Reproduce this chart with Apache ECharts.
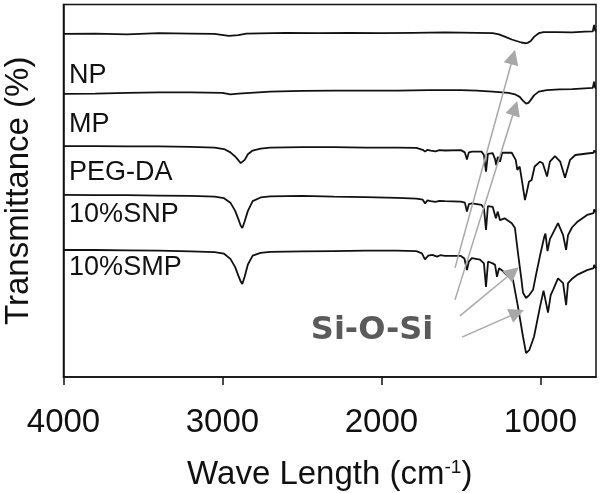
<!DOCTYPE html>
<html>
<head>
<meta charset="utf-8">
<script src="https://cdn.jsdelivr.net/npm/echarts@6/dist/echarts.min.js"></script>
<style>html,body{margin:0;padding:0;background:#fff}#c{width:600px;height:493px}</style>
</head>
<body>
<div id="c"></div>
<script>
// ---- data (wavenumber cm-1, offset transmittance a.u.) ----
const seriesNames = ['NP', 'MP', 'PEG-DA', '10%SNP', '10%SMP'];
const xTicks = [4000, 3000, 2000, 1000];

const NP = [[4000,92.1],[3800,92.2],[3600,92.0],[3400,92.3],[3200,92.2],[3050,92.1],[2960,91.6],[2900,91.8],[2850,92.2],[2600,92.4],[2400,92.3],[2200,92.4],[2000,92.3],[1800,92.4],[1600,92.5],[1400,92.4],[1300,92.3],[1260,92.0],[1220,91.3],[1180,90.6],[1150,90.2],[1120,89.8],[1095,89.6],[1080,89.7],[1060,90.2],[1040,91.3],[1010,92.3],[980,92.6],[900,92.6],[800,92.5],[720,92.7],[670,92.8],[662,94.5],[655,93.0],[650,92.8]];

const MP = [[4000,76.0],[3800,76.1],[3600,76.3],[3400,76.4],[3200,76.4],[3000,76.3],[2950,75.9],[2900,76.1],[2700,76.6],[2500,76.8],[2300,76.9],[2100,76.9],[1900,76.9],[1700,77.0],[1500,77.0],[1400,76.9],[1300,76.6],[1200,76.3],[1160,75.9],[1130,75.2],[1110,74.2],[1090,73.4],[1075,73.6],[1060,74.4],[1040,75.6],[1010,76.6],[960,77.0],[880,77.2],[800,77.3],[720,77.5],[670,77.6],[662,79.3],[655,77.6],[650,77.6]];

const PEGDA = [[4000,62.0],[3800,62.0],[3600,61.9],[3400,61.9],[3200,61.8],[3050,61.6],[2990,61.2],[2950,60.3],[2920,59.2],[2900,58.2],[2885,57.4],[2875,57.2],[2860,58.3],[2840,59.8],[2810,60.8],[2760,61.3],[2700,61.6],[2500,61.7],[2300,61.7],[2100,61.6],[1900,61.6],[1780,61.5],[1740,61.0],[1725,60.5],[1710,61.0],[1690,60.8],[1660,60.6],[1635,60.9],[1600,60.8],[1500,60.9],[1475,60.3],[1462,58.4],[1450,60.3],[1430,60.5],[1370,60.5],[1355,59.6],[1342,55.1],[1330,59.9],[1300,60.1],[1285,58.5],[1278,56.9],[1268,59.1],[1254,57.8],[1240,60.2],[1180,60.2],[1155,58.3],[1145,55.6],[1130,56.5],[1110,51.1],[1097,47.5],[1085,49.7],[1072,52.4],[1055,52.9],[1036,56.5],[1002,57.8],[985,57.4],[958,53.8],[940,57.8],[908,59.3],[875,57.8],[845,53.5],[838,53.1],[813,58.3],[780,59.6],[706,60.0],[665,60.2],[662,60.8],[650,60.3]];

const SNP10 = [[4000,48.9],[3800,48.8],[3600,48.8],[3400,48.7],[3200,48.6],[3050,48.4],[2990,48.0],[2950,46.8],[2920,44.6],[2900,42.4],[2885,40.6],[2875,40.0],[2860,41.8],[2840,44.6],[2810,47.2],[2760,48.2],[2700,48.5],[2500,48.6],[2300,48.4],[2100,48.3],[1900,48.1],[1780,47.9],[1740,47.6],[1725,46.6],[1710,47.4],[1690,47.2],[1660,47.0],[1635,47.3],[1600,47.2],[1500,47.1],[1475,46.8],[1462,44.4],[1450,46.4],[1430,46.6],[1370,46.2],[1355,45.3],[1342,39.5],[1330,45.9],[1300,45.7],[1280,42.6],[1268,44.4],[1254,42.1],[1225,42.6],[1180,41.3],[1160,40.0],[1141,33.3],[1120,26.5],[1109,22.6],[1090,21.2],[1070,22.0],[1046,23.4],[1030,26.9],[1002,32.6],[975,37.7],[968,38.5],[955,33.8],[940,37.0],[920,38.7],[889,41.3],[857,38.1],[838,34.1],[826,38.1],[800,40.2],[769,41.6],[706,43.5],[665,44.0],[662,45.0],[650,44.2]];

const SMP10 = [[4000,34.1],[3800,34.1],[3600,34.0],[3400,33.9],[3200,33.7],[3050,33.5],[2990,33.1],[2950,31.7],[2920,29.5],[2900,27.2],[2885,25.6],[2875,25.0],[2860,27.0],[2840,30.2],[2810,32.6],[2760,33.3],[2700,33.6],[2500,33.7],[2300,33.8],[2100,33.9],[1900,33.9],[1780,33.8],[1745,33.2],[1726,31.6],[1705,32.6],[1680,32.8],[1650,32.3],[1630,32.7],[1600,32.5],[1500,32.5],[1478,31.8],[1462,28.7],[1450,31.0],[1431,31.9],[1380,31.5],[1355,30.5],[1342,24.2],[1329,31.0],[1300,30.5],[1285,30.1],[1273,26.9],[1260,29.2],[1240,28.6],[1222,27.8],[1172,26.0],[1141,18.9],[1109,10.8],[1090,6.4],[1070,7.2],[1040,10.8],[1002,18.9],[980,23.2],[971,23.6],[952,17.3],[935,22.0],[920,23.4],[889,26.5],[857,25.2],[838,19.3],[826,25.2],[800,26.4],[769,27.4],[706,28.7],[665,29.2],[662,30.1],[650,29.2]];

const seriesData = [NP, MP, PEGDA, SNP10, SMP10];

// annotation anchors (data coords)
const labelAnchorX = 3968;
const labelAnchorY = [80.8, 67.7, 55.0, 43.5, 29.5];
const arrows = [
  [[1537, 29.3], [1172, 85.9]],
  [[1537, 20.7], [1160, 72.2]],
  [[1506, 16.4], [1172, 28.2]],
  [[1493, 10.7], [1147, 17.2]]
];
const annotText = 'Si-O-Si';
const annotAt = [2059, 12.35];

const FONT = 'Liberation Sans, Arial, sans-serif';
const chart = echarts.init(document.getElementById('c'), null, {renderer: 'canvas'});

const series = seriesData.map((d, i) => ({
  name: seriesNames[i],
  type: 'line',
  data: d,
  showSymbol: false,
  symbol: 'none',
  lineStyle: {color: '#111', width: 1.8},
  silent: true,
  markPoint: {
    silent: true,
    symbol: 'circle',
    symbolSize: 1,
    itemStyle: {color: 'rgba(0,0,0,0)'},
    data: [{
      coord: [labelAnchorX, labelAnchorY[i]],
      label: {show: true, formatter: seriesNames[i], position: 'right', distance: 0,
        fontSize: 27, fontFamily: FONT, color: '#111', align: 'left', verticalAlign: 'middle'}
    }]
  }
}));

series[4].markLine = {
  silent: true,
  symbol: ['none', 'triangle'],
  symbolSize: 15,
  lineStyle: {color: '#a8a8a8', width: 1.5, type: 'solid'},
  itemStyle: {color: '#a8a8a8'},
  label: {show: false},
  data: arrows.map(a => [{coord: a[0]}, {coord: a[1]}])
};
series[4].markPoint.data.push({
  coord: annotAt,
  label: {show: true, formatter: annotText, position: 'inside', fontSize: 32,
    fontWeight: 'bold', fontFamily: 'DejaVu Sans', color: '#5a5a5a'}
});

chart.setOption({
  animation: false,
  backgroundColor: '#fff',
  grid: {left: 63.5, right: 4, top: 4.5, bottom: 116, outerBoundsMode: 'none', containLabel: false,
    show: true, borderColor: '#111', borderWidth: 1.5, backgroundColor: 'transparent'},
  xAxis: {
    type: 'value', min: 650, max: 4000, inverse: true,
    axisLine: {show: true, lineStyle: {color: '#111', width: 1.5}},
    axisTick: {show: true, inside: false, length: 8, customValues: xTicks, lineStyle: {color: '#111', width: 1.5}},
    axisLabel: {show: true, customValues: xTicks, formatter: v => String(v), fontSize: 33, fontFamily: FONT, color: '#111', margin: 29},
    splitLine: {show: false},
    name: 'Wave Length (cm{s|-1})',
    nameLocation: 'middle', nameGap: 81,
    nameTextStyle: {fontSize: 33, fontFamily: FONT, color: '#111',
      rich: {s: {fontSize: 19, fontFamily: FONT, color: '#111', verticalAlign: 'top'}}}
  },
  yAxis: {
    type: 'value', min: 0, max: 100,
    axisLine: {show: true, lineStyle: {color: '#111', width: 1.5}},
    axisTick: {show: false}, axisLabel: {show: false}, splitLine: {show: false},
    name: 'Transmittance (%)', nameLocation: 'middle', nameGap: 28,
    nameTextStyle: {fontSize: 33, fontFamily: FONT, color: '#111'}
  },
  series: series
});
</script>
</body>
</html>
